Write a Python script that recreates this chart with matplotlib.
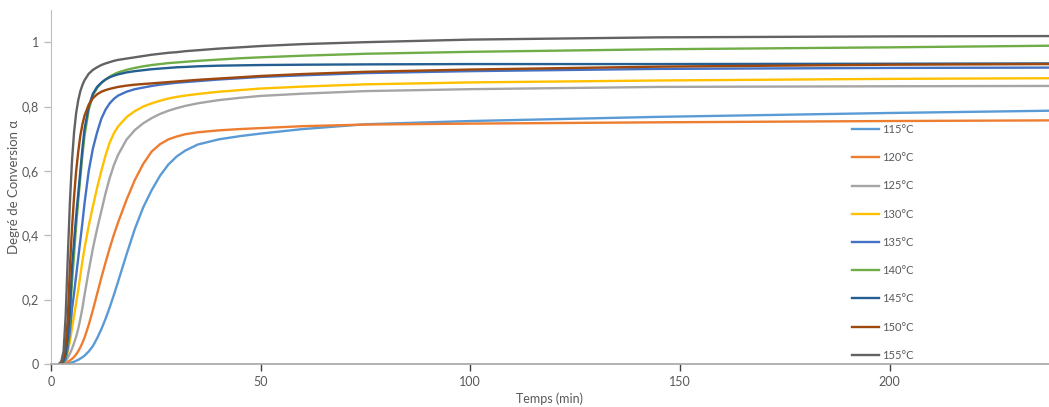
import numpy as np
import matplotlib.pyplot as plt
from matplotlib.ticker import FuncFormatter

plt.rcParams['font.family'] = ['Lato', 'DejaVu Sans']

# temps (min) commun a toutes les courbes
t = [2, 2.5, 3, 3.5, 4, 4.5, 5, 5.5, 6, 6.5, 7, 7.5, 8, 9, 10, 11, 12, 13, 14, 15, 16,
     18, 20, 22, 24, 26, 28, 30, 32, 35, 40, 45, 50, 60, 75, 100, 145, 200, 238]

a115 = [0, 0, 0, 0.001, 0.002, 0.003, 0.005, 0.007, 0.01, 0.013, 0.017, 0.021, 0.026,
        0.039, 0.056, 0.08, 0.108, 0.14, 0.176, 0.215, 0.256, 0.34, 0.42, 0.487, 0.54,
        0.585, 0.62, 0.645, 0.663, 0.682, 0.698, 0.708, 0.716, 0.73, 0.745, 0.755,
        0.768, 0.78, 0.787]
a120 = [0, 0, 0.002, 0.004, 0.007, 0.011, 0.016, 0.022, 0.03, 0.04, 0.052, 0.066, 0.082,
        0.122, 0.168, 0.218, 0.268, 0.315, 0.36, 0.402, 0.44, 0.51, 0.572, 0.622, 0.66,
        0.683, 0.698, 0.707, 0.714, 0.72, 0.726, 0.73, 0.733, 0.739, 0.744, 0.747,
        0.751, 0.755, 0.757]
a125 = [0, 0, 0.004, 0.01, 0.02, 0.032, 0.047, 0.065, 0.085, 0.11, 0.14, 0.175, 0.215,
        0.29, 0.36, 0.42, 0.475, 0.53, 0.578, 0.618, 0.65, 0.697, 0.727, 0.748, 0.764,
        0.777, 0.787, 0.795, 0.802, 0.81, 0.82, 0.827, 0.833, 0.84, 0.848, 0.854,
        0.861, 0.863, 0.864]
a130 = [0, 0, 0.005, 0.015, 0.04, 0.07, 0.11, 0.15, 0.19, 0.23, 0.275, 0.32, 0.36,
        0.43, 0.49, 0.548, 0.6, 0.648, 0.688, 0.717, 0.738, 0.767, 0.786, 0.8, 0.81,
        0.818, 0.825, 0.83, 0.834, 0.839, 0.846, 0.851, 0.856, 0.862, 0.869, 0.875,
        0.881, 0.886, 0.888]
a135 = [0, 0.001, 0.005, 0.015, 0.05, 0.1, 0.17, 0.22, 0.275, 0.33, 0.385, 0.44, 0.5,
        0.6, 0.67, 0.72, 0.762, 0.79, 0.81, 0.824, 0.834, 0.846, 0.854, 0.859, 0.864,
        0.868, 0.871, 0.874, 0.876, 0.879, 0.884, 0.888, 0.892, 0.897, 0.904, 0.91,
        0.917, 0.92, 0.921]
a140 = [0, 0.002, 0.008, 0.025, 0.07, 0.15, 0.25, 0.34, 0.43, 0.51, 0.58, 0.65, 0.71,
        0.79, 0.835, 0.858, 0.873, 0.884, 0.893, 0.9, 0.906, 0.914, 0.92, 0.925, 0.929,
        0.932, 0.935, 0.937, 0.939, 0.942, 0.946, 0.95, 0.953, 0.958, 0.964, 0.97,
        0.978, 0.984, 0.989]
a145 = [0, 0.002, 0.01, 0.03, 0.08, 0.16, 0.3, 0.38, 0.46, 0.53, 0.6, 0.67, 0.73,
        0.8, 0.84, 0.861, 0.874, 0.884, 0.891, 0.896, 0.9, 0.906, 0.91, 0.913, 0.916,
        0.918, 0.92, 0.922, 0.923, 0.925, 0.927, 0.928, 0.929, 0.93, 0.931, 0.932,
        0.932, 0.933, 0.934]
a150 = [0, 0.005, 0.02, 0.06, 0.14, 0.3, 0.42, 0.52, 0.6, 0.66, 0.71, 0.745, 0.772,
        0.806, 0.826, 0.838, 0.846, 0.851, 0.855, 0.858, 0.861, 0.865, 0.868, 0.87, 0.872,
        0.874, 0.876, 0.878, 0.88, 0.883, 0.887, 0.891, 0.895, 0.901, 0.908, 0.915,
        0.924, 0.93, 0.932]
a155 = [0, 0.01, 0.04, 0.15, 0.33, 0.5, 0.63, 0.72, 0.78, 0.82, 0.848, 0.867, 0.882,
        0.902, 0.914, 0.922, 0.929, 0.934, 0.938, 0.942, 0.945, 0.949, 0.953, 0.957, 0.961,
        0.964, 0.967, 0.969, 0.972, 0.975, 0.98, 0.984, 0.988, 0.994, 1.0, 1.008,
        1.015, 1.018, 1.019]

series = [a115, a120, a125, a130, a135, a140, a145, a150, a155]
labels = ['115°C', '120°C', '125°C', '130°C', '135°C', '140°C', '145°C', '150°C', '155°C']
colors = ['#5B9BD5', '#ED7D31', '#A5A5A5', '#FFC000', '#4472C4',
          '#70AD47', '#255E91', '#9E480E', '#636363']

fig = plt.figure(figsize=(10.49, 4.07), dpi=100)
ax = fig.add_axes([51/1049, 43/407, 998/1049, 354/407])

for y, lab, c in zip(series, labels, colors):
    ax.plot(t, y, color=c, lw=1.7, label=lab, solid_joinstyle='round')

ax.set_xlim(0, 238)
ax.set_ylim(0, 1.1)
ax.set_xticks([0, 50, 100, 150, 200])
ax.set_yticks([0, 0.2, 0.4, 0.6, 0.8, 1.0])
ax.yaxis.set_major_formatter(FuncFormatter(lambda v, p: ('%g' % round(v, 1)).replace('.', ',')))

for s in ['top', 'right']:
    ax.spines[s].set_visible(False)
ax.spines['left'].set_color('#BFBFBF')
ax.spines['bottom'].set_color('#A6A6A6')
ax.spines['bottom'].set_linewidth(1.2)
ax.tick_params(axis='x', colors='#404040', labelcolor='#595959', length=5, width=1, labelsize=9)
ax.tick_params(axis='y', colors='#BFBFBF', labelcolor='#595959', length=5, width=1, labelsize=9)

ax.set_xlabel('Temps (min)', color='#595959', fontsize=9, labelpad=3)
ax.set_ylabel('Degré de Conversion α', color='#595959', fontsize=9.5, labelpad=1)

leg = ax.legend(loc='upper left', bbox_to_anchor=(842/1049, 1 - 114/407), bbox_transform=fig.transFigure,
                frameon=False, fontsize=8, labelspacing=1.55, handlelength=2.4, handletextpad=0.3)
for txt in leg.get_texts():
    txt.set_color('#595959')

plt.savefig('out.png', dpi=100)
